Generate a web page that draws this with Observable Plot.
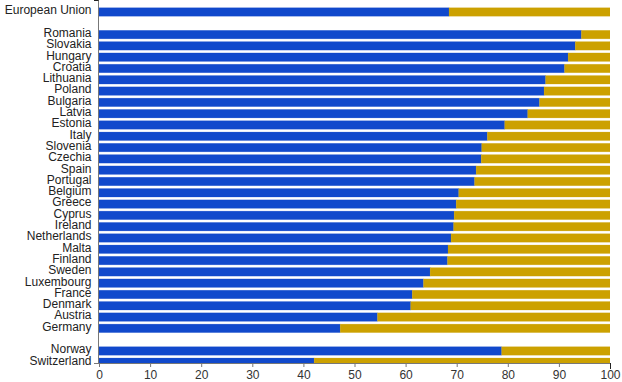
<!DOCTYPE html>
<html>
<head>
<meta charset="utf-8">
<script src="https://cdn.jsdelivr.net/npm/d3@7"></script>
<script src="https://cdn.jsdelivr.net/npm/@observablehq/plot@0.6"></script>
<style>
  html, body { margin: 0; padding: 0; background: #fff; }
  #chart { width: 622px; height: 382px; }
</style>
</head>
<body>
<div id="chart"></div>
<script>
const countries = ["European Union", "Romania", "Slovakia", "Hungary", "Croatia", "Lithuania", "Poland", "Bulgaria", "Latvia", "Estonia", "Italy", "Slovenia", "Czechia", "Spain", "Portugal", "Belgium", "Greece", "Cyprus", "Ireland", "Netherlands", "Malta", "Finland", "Sweden", "Luxembourg", "France", "Denmark", "Austria", "Germany", "Norway", "Switzerland"];
const owner  = [68.5, 94.4, 93.2, 91.8, 91.1, 87.4, 87.1, 86.2, 83.9, 79.4, 76.0, 74.9, 74.8, 73.8, 73.5, 70.4, 69.9, 69.5, 69.4, 68.9, 68.3, 68.2, 64.8, 63.5, 61.3, 61.0, 54.5, 47.2, 78.8, 42.1];
const tenant = [31.5, 5.6, 6.8, 8.2, 8.9, 12.6, 12.9, 13.8, 16.1, 20.6, 24.0, 25.1, 25.2, 26.2, 26.5, 29.6, 30.1, 30.5, 30.6, 31.1, 31.7, 31.8, 35.2, 36.5, 38.7, 39.0, 45.5, 52.8, 21.2, 57.9];
const tenures = ["Owner", "Tenant"];
const tenureColors = ["#1149cc", "#cca100"];
const xTicks = [0, 10, 20, 30, 40, 50, 60, 70, 80, 90, 100];
// row order, with two blank spacer rows
const rows = ["European Union", " ", ...countries.slice(1, 28), "  ", "Norway", "Switzerland"];

const data = countries.flatMap((c, i) => [
  {country: c, tenure: tenures[0], value: owner[i]},
  {country: c, tenure: tenures[1], value: tenant[i]}
]);

const W = 622, H = 382;
const mt = 1, mb = 19, ml = 99, mr = 12;

const axisLines = (index, scales, values, dim) => {
  const ns = "http://www.w3.org/2000/svg";
  const g = document.createElementNS(ns, "g");
  const x0 = scales.x(0), x1 = scales.x(100);
  const yb = dim.height - dim.marginBottom, yt = dim.marginTop;
  const mk = (x1_, y1_, x2_, y2_, color) => {
    const l = document.createElementNS(ns, "line");
    l.setAttribute("x1", x1_); l.setAttribute("y1", y1_);
    l.setAttribute("x2", x2_); l.setAttribute("y2", y2_);
    l.setAttribute("stroke", color); l.setAttribute("stroke-width", 1);
    g.appendChild(l);
  };
  mk(x0 - 0.5, yt - 1, x0 - 0.5, yb + 0.5, "#777");
  mk(x0 - 5, yt - 0.5, x0 - 0.5, yt - 0.5, "#222");
  mk(x0 - 5, yb + 0.5, x1 + 0.5, yb + 0.5, "#777");
  mk(x1 + 0.5, yb, x1 + 0.5, yb + 6, "#222");
  return g;
};

const chart = Plot.plot({
  width: W,
  height: H,
  marginTop: mt,
  marginBottom: mb,
  marginLeft: ml,
  marginRight: mr,
  style: {fontFamily: "'Liberation Sans', Arial, sans-serif", fontSize: "12px", background: "#fff", color: "#333"},
  x: {domain: [0, 100], axis: null, label: null},
  y: {type: "band", domain: rows, range: [7.75, 366.5], paddingInner: 0.25, paddingOuter: 0, round: false, axis: null, label: null},
  color: {domain: tenures, range: tenureColors},
  marks: [
    Plot.barX(data, {x: "value", y: "country", fill: "tenure", stroke: "tenure", strokeOpacity: 0.35, strokeWidth: 0.6, clip: true}),
    Plot.axisY({tickSize: 0, tickPadding: 8, fontSize: 12, dy: -2, tickFormat: d => d.trim(), fill: "#222", label: null}),
    Plot.axisX({ticks: xTicks, tickSize: 4, tickPadding: 3, fontSize: 12, fill: "#333", stroke: "#777", label: null}),
    axisLines
  ]
});
document.getElementById("chart").appendChild(chart);
</script>
</body>
</html>
